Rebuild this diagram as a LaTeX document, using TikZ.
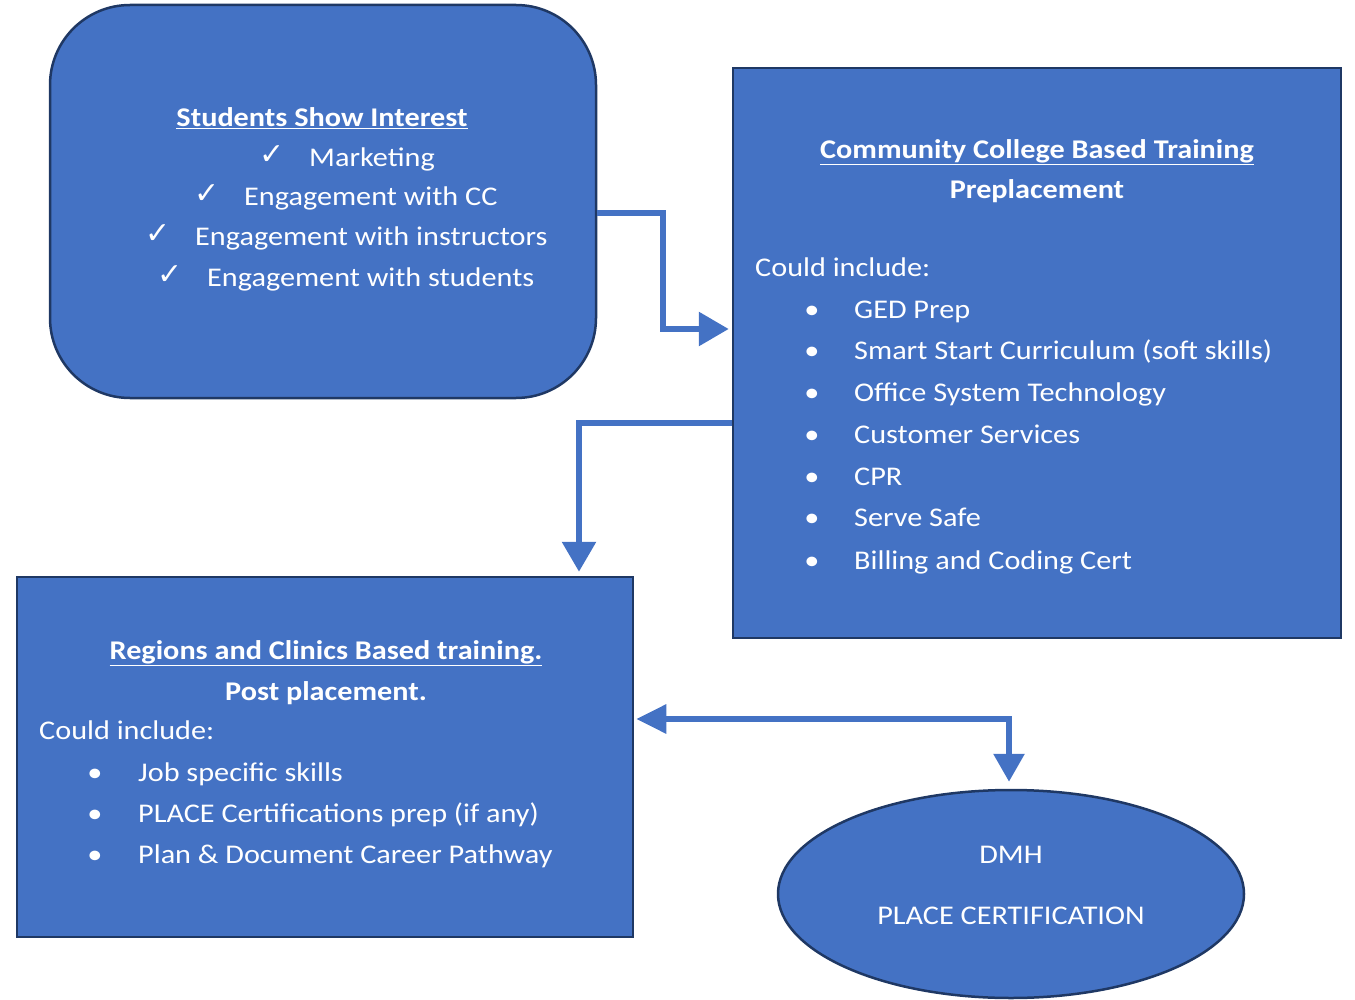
\documentclass[tikz,border=0pt]{standalone}
\usepackage{fontspec}
\setmainfont{Carlito}[FakeStretch=1.12]
\newfontfamily\symfont{DejaVu Sans}
\usetikzlibrary{arrows.meta}
\usetikzlibrary{shapes.geometric}
\usetikzlibrary{positioning}
\definecolor{boxblue}{HTML}{4472C4}
\definecolor{boxedge}{HTML}{1F3864}
\tikzset{box/.style = {draw = boxedge, fill = boxblue, line width = 2.5pt, inner sep = 0}}
\tikzset{flow/.style = {draw = boxblue, line width = 6pt, -{Triangle[length = 30pt, width = 33pt]}}}
\tikzset{txt/.style = {text = white, inner sep = 0, font = \fontsize{27}{32}\selectfont}}
\tikzset{head/.style = {txt, font = \fontsize{27}{32}\selectfont\bfseries}}
\tikzset{check/.style = {txt, font = \fontsize{30}{34}\selectfont\symfont}}

\begin{document}
\begin{tikzpicture}[x = 1pt, y = -1pt]
      \useasboundingbox (0, 0) rectangle (1355, 1000);

      % the four shapes
      \node [box, rounded corners = 80pt, minimum width = 546pt, minimum height = 393pt] (interest) at (323, 201.5) {};
      \node [box, minimum width = 608pt, minimum height = 570pt] (college) at (1037, 353) {};
      \node [box, minimum width = 616pt, minimum height = 360pt] (clinics) at (325, 757) {};
      \node [box, ellipse, minimum width = 466pt, minimum height = 208pt] (dmh) at (1011, 894) {};

      % students show interest
      \node [head, anchor = mid] (title1) at (322, 124) {\underline{Students Show Interest}};
      \node [txt, anchor = mid west] (m1) at (309, 164) {Marketing};
      \node [txt, anchor = mid west] (m2) at (244, 203) {Engagement with CC};
      \node [txt, anchor = mid west] (m3) at (195, 243) {Engagement with instructors};
      \node [txt, anchor = mid west] (m4) at (207, 284) {Engagement with students};
      \foreach \m in {m1, m2, m3, m4}
        \node [check, left = 24pt of \m, yshift = 4pt] {✓};

      % community college
      \node [head, anchor = mid] (title2) at (1037, 156) {\underline{Community College Based Training}};
      \node [head, anchor = mid] (sub2) at (1037, 196) {Preplacement};
      \node [txt, anchor = mid west] (could2) at (755, 274) {Could include:};
      \foreach \y/\t in {316/GED Prep, 357/Smart Start Curriculum (soft skills),
                         399/Office System Technology, 441/Customer Services,
                         483/CPR, 524/Serve Safe, 567/Billing and Coding Cert} {
        \node [txt, anchor = mid] (dot\y) at (812, \y) {•};
        \node [txt, anchor = mid west] (item\y) at (854, \y) {\t};
      }

      % regions and clinics
      \node [head, anchor = mid] (title3) at (326, 657) {\underline{Regions and Clinics Based training.}};
      \node [head, anchor = mid] (sub3) at (326, 698) {Post placement.};
      \node [txt, anchor = mid west] (could3) at (39, 737) {Could include:};
      \foreach \y/\t in {779/Job specific skills, 820/PLACE Certifications prep (if any),
                         861/Plan \& Document Career Pathway} {
        \node [txt, anchor = mid] (dot\y) at (95, \y) {•};
        \node [txt, anchor = mid west] (item\y) at (138, \y) {\t};
      }

      % dmh
      \node [txt, anchor = mid] (dmh1) at (1011, 861) {DMH};
      \node [txt, anchor = mid] (dmh2) at (1011, 922) {PLACE CERTIFICATION};

      % connectors
      \draw [flow, shorten > = 3pt] (interest.east |- 0, 213) -- (663, 213) |- (college.west |- 0, 329);
      \draw [flow, shorten > = 4pt] (college.west |- 0, 423) -| (clinics.north -| 579, 0);
      \draw [flow, {Triangle[length = 30pt, width = 28pt]}-{Triangle[length = 28pt, width = 30pt]},
             shorten < = 2pt, shorten > = 7pt] (clinics.east |- 0, 719) -| (dmh.north -| 1009, 0);

    \end{tikzpicture}
\end{document}
